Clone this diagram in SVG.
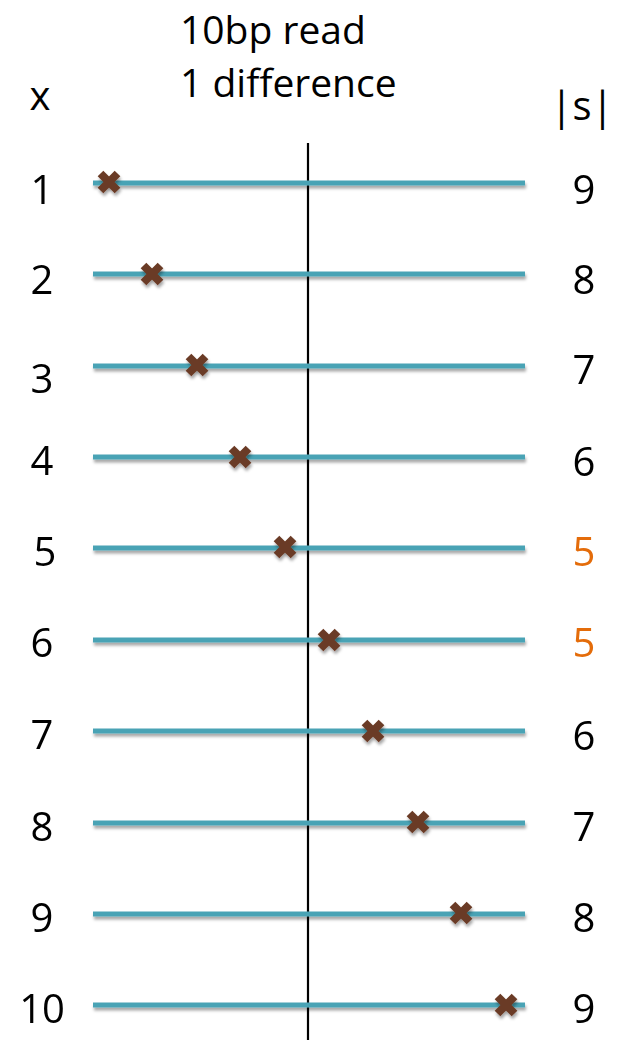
<svg xmlns="http://www.w3.org/2000/svg" width="620" height="1040" viewBox="0 0 620 1040">
<style>
.t{font-family:"Open Sans","Liberation Sans",sans-serif;font-size:39px;fill:#000}
.n{font-family:"Open Sans","Liberation Sans",sans-serif;font-size:40px;fill:#000;text-anchor:middle}
.o{fill:#e46c0a}
.read{stroke:#4aa3b5;stroke-width:5;fill:none}
.mark{stroke:#6b3a25;stroke-width:8;fill:none}
</style>
<defs>
<filter id="sh" x="-10%" y="-100%" width="120%" height="400%">
<feDropShadow dx="1" dy="3" stdDeviation="1.5" flood-color="#000" flood-opacity="0.35"/>
</filter>
<g id="x"><path class="mark" d="M-8.5,-8.5L8.5,8.5M-8.5,8.5L8.5,-8.5"/></g>
</defs>
<g id="title">
<text class="t" x="180" y="44">10bp read</text>
<text class="t" x="180" y="97">1 difference</text>
</g>
<g id="header-x"><text class="n" x="40" y="110">x</text></g>
<g id="header-s"><text class="n" x="582" y="120">|s|</text></g>
<g id="connectors">
<line x1="308" y1="143" x2="308" y2="1040" stroke="#000" stroke-width="2.2"/>
</g>
<g id="reads" filter="url(#sh)">
<line class="read" x1="93" y1="183" x2="525" y2="183"/>
<line class="read" x1="93" y1="274" x2="525" y2="274"/>
<line class="read" x1="93" y1="366" x2="525" y2="366"/>
<line class="read" x1="93" y1="457" x2="525" y2="457"/>
<line class="read" x1="93" y1="548" x2="525" y2="548"/>
<line class="read" x1="93" y1="640" x2="525" y2="640"/>
<line class="read" x1="93" y1="731" x2="525" y2="731"/>
<line class="read" x1="93" y1="823" x2="525" y2="823"/>
<line class="read" x1="93" y1="914" x2="525" y2="914"/>
<line class="read" x1="93" y1="1005" x2="525" y2="1005"/>
</g>
<g id="marks" filter="url(#sh)">
<use href="#x" x="109" y="182"/>
<use href="#x" x="152" y="274"/>
<use href="#x" x="197" y="365"/>
<use href="#x" x="240" y="457"/>
<use href="#x" x="285" y="547"/>
<use href="#x" x="329" y="640"/>
<use href="#x" x="373" y="731"/>
<use href="#x" x="418" y="822"/>
<use href="#x" x="461" y="913"/>
<use href="#x" x="506" y="1005"/>
</g>
<g id="x-labels">
<text class="n" x="42" y="204">1</text>
<text class="n" x="42" y="294">2</text>
<text class="n" x="42" y="393">3</text>
<text class="n" x="42" y="475">4</text>
<text class="n" x="45" y="566">5</text>
<text class="n" x="42" y="657">6</text>
<text class="n" x="42" y="749">7</text>
<text class="n" x="42" y="841">8</text>
<text class="n" x="42" y="932">9</text>
<text class="n" x="42" y="1023">10</text>
</g>
<g id="s-labels">
<text class="n" x="584" y="204">9</text>
<text class="n" x="584" y="294">8</text>
<text class="n" x="584" y="384">7</text>
<text class="n" x="584" y="476">6</text>
<text class="n o" x="584" y="566">5</text>
<text class="n o" x="584" y="657">5</text>
<text class="n" x="584" y="750">6</text>
<text class="n" x="584" y="841">7</text>
<text class="n" x="584" y="932">8</text>
<text class="n" x="584" y="1023">9</text>
</g>
</svg>
